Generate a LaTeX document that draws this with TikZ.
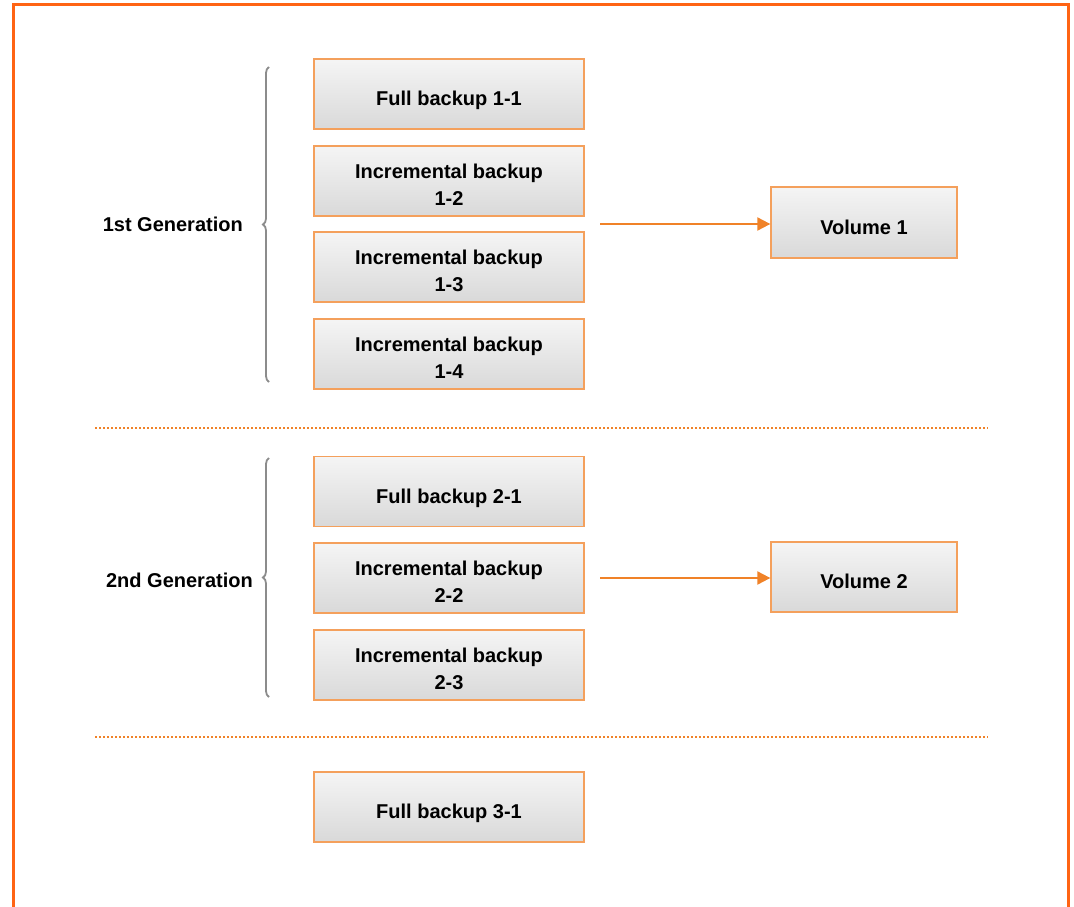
\documentclass[tikz,border=0pt]{standalone}
\usepackage{fontspec}
\setmainfont{Liberation Sans}
\usetikzlibrary{arrows.meta,decorations.pathreplacing}
\definecolor{frameorange}{HTML}{FF6414}
\definecolor{boxedge}{HTML}{F4A05C}
\definecolor{arroworange}{HTML}{F08228}
\definecolor{bracegray}{HTML}{8C8C8C}
\tikzset{
  backupbox/.style={draw=boxedge, line width=1.3pt, top color=white!96!black, bottom color=black!15,
    minimum width=270pt, minimum height=70pt, inner sep=0pt, align=center,
    text height=27pt, text depth=4pt,
    font=\bfseries\fontsize{20}{27}\selectfont},
  twoline/.style={text height=53pt, text depth=4pt},
  genlabel/.style={font=\bfseries\fontsize{20}{27}\selectfont, anchor=east, inner sep=0pt},
  feed/.style={draw=arroworange, line width=2pt, -{Triangle[length=13pt,width=13pt]}},
  separator/.style={draw=arroworange, line width=2pt, dash pattern=on 1.6pt off 2.4pt},
  genbrace/.style={draw=bracegray, line width=1.8pt, decorate, decoration={brace, amplitude=6pt}}
}
\begin{document}
\begin{tikzpicture}[x=1pt,y=-1pt]
\useasboundingbox (0,0) rectangle (1074,907);
% outer frame, open at the bottom
\draw[frameorange, line width=3pt] (13,915) -- (13,5) -- (1068,5) -- (1068,915);

% first generation
\node[backupbox] (f11) at (449,94)  {Full backup 1-1};
\node[backupbox, twoline] (i12) at (449,181) {Incremental backup\\1-2};
\node[backupbox, twoline] (i13) at (449,267) {Incremental backup\\1-3};
\node[backupbox, twoline] (i14) at (449,354) {Incremental backup\\1-4};
\node[backupbox, minimum width=186pt, minimum height=71pt] (v1) at (864,222.5) {Volume 1};
\coordinate (s1) at (600,224);
\draw[feed] (s1) -- (s1 -| v1.west);
\coordinate (b1top) at (269,67);
\coordinate (b1bot) at (269,382);
\draw[genbrace] (b1bot) -- (b1top);
\node[genlabel] (g1) at (243,224) {1st Generation};

\coordinate (d1l) at (95,428);
\coordinate (d1r) at (988,428);
\draw[separator] (d1l) -- (d1r);

% second generation
\node[backupbox] (f21) at (449,491.5) {Full backup 2-1};
\node[backupbox, twoline] (i22) at (449,578)   {Incremental backup\\2-2};
\node[backupbox, twoline] (i23) at (449,665)   {Incremental backup\\2-3};
\node[backupbox, minimum width=186pt, minimum height=70pt] (v2) at (864,577) {Volume 2};
\coordinate (s2) at (600,578);
\draw[feed] (s2) -- (s2 -| v2.west);
\coordinate (b2top) at (269,458);
\coordinate (b2bot) at (269,697);
\draw[genbrace] (b2bot) -- (b2top);
\node[genlabel] (g2) at (253,580) {2nd Generation};

\coordinate (d2l) at (95,737);
\coordinate (d2r) at (988,737);
\draw[separator] (d2l) -- (d2r);

% third generation
\node[backupbox] (f31) at (449,807) {Full backup 3-1};
\end{tikzpicture}
\end{document}
